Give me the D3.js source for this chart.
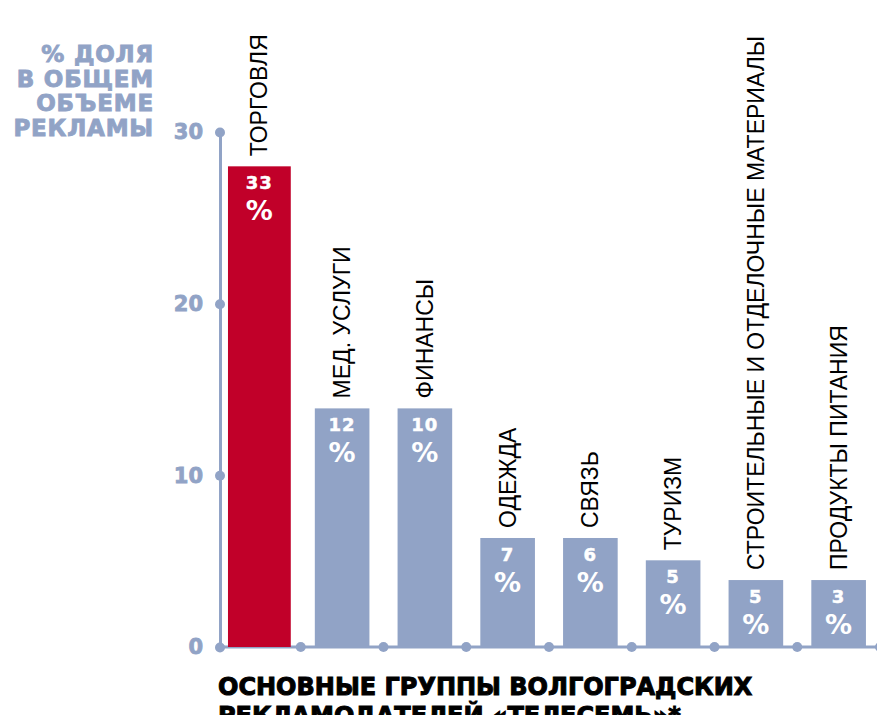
<!DOCTYPE html>
<html>
<head>
<meta charset="utf-8">
<script src="https://cdn.jsdelivr.net/npm/d3@7/dist/d3.min.js"></script>
<style>
  body { margin: 0; background: #fff; }
  svg { display: block; }
</style>
</head>
<body>
<svg id="chart" width="877" height="715"></svg>
<script>
// data
const categories = ["ТОРГОВЛЯ", "МЕД. УСЛУГИ", "ФИНАНСЫ", "ОДЕЖДА", "СВЯЗЬ", "ТУРИЗМ",
  "СТРОИТЕЛЬНЫЕ И ОТДЕЛОЧНЫЕ МАТЕРИАЛЫ", "ПРОДУКТЫ ПИТАНИЯ"];
const barValues = [28, 13.9, 13.9, 6.35, 6.35, 5.05, 3.9, 3.9];
const shareLabels = [33, 12, 10, 7, 6, 5, 5, 3];
const yTicks = [0, 10, 20, 30];
const yTitle = ["% ДОЛЯ", "В ОБЩЕМ", "ОБЪЕМЕ", "РЕКЛАМЫ"];
const xTitle = ["ОСНОВНЫЕ ГРУППЫ ВОЛГОГРАДСКИХ", "РЕКЛАМОДАТЕЛЕЙ «ТЕЛЕСЕМЬ»*"];

var blue = "#91a3c6";
var red = "#c10029";
var axisX = 220;
var heavy = "'DejaVu Sans', sans-serif";

var svg = d3.select("#chart");

var x = d3.scaleBand()
  .domain(categories)
  .range([218, 880])
  .paddingInner(0.34)
  .paddingOuter(0.17);

var y = d3.scaleLinear()
  .domain([0, 30])
  .range([647, 132]);

// x axis line + dots between bars
svg.append("line")
  .attr("x1", axisX).attr("x2", 877)
  .attr("y1", y(0)).attr("y2", y(0))
  .attr("stroke", blue).attr("stroke-width", 3);

svg.selectAll("circle.xdot").data(categories).enter().append("circle")
  .attr("class", "xdot")
  .attr("cx", function(d){ return x(d) + x.bandwidth() + x.step() * x.paddingInner() / 2; })
  .attr("cy", y(0))
  .attr("r", 5)
  .attr("fill", blue);

// y axis
var yAxis = d3.axisLeft(y).tickValues(yTicks).tickSize(0).tickPadding(17);
var gy = svg.append("g")
  .attr("transform", "translate(" + axisX + ",0)")
  .call(yAxis);
gy.select(".domain").attr("stroke", blue).attr("stroke-width", 3);
gy.selectAll("text")
  .attr("fill", blue)
  .attr("stroke", blue)
  .attr("stroke-width", 0.8)
  .style("font-family", heavy)
  .style("font-weight", "bold")
  .style("font-size", "21px");
gy.selectAll(".tick").append("circle")
  .attr("r", 5).attr("fill", blue);

// y title
svg.append("g").selectAll("text").data(yTitle).enter().append("text")
  .attr("x", 154)
  .attr("y", function(d, i){ return 62 + i * 24.7; })
  .attr("text-anchor", "end")
  .attr("fill", blue)
  .attr("stroke", blue)
  .attr("stroke-width", 0.9)
  .style("font-family", heavy)
  .style("font-weight", "bold")
  .style("font-size", "23px")
  .style("letter-spacing", "0.8px")
  .text(function(d){ return d; });

// bars
function barW(i){ return i === 0 ? x.bandwidth() * 1.15 : x.bandwidth(); }
function barX(d, i){ return x(d) + x.bandwidth() / 2 - barW(i) / 2; }

svg.selectAll("rect.bar").data(categories).enter().append("rect")
  .attr("class", "bar")
  .attr("x", barX)
  .attr("y", function(d, i){ return y(barValues[i]); })
  .attr("width", function(d, i){ return barW(i); })
  .attr("height", function(d, i){ return y(0) - y(barValues[i]); })
  .attr("fill", function(d, i){ return i === 0 ? red : blue; });

// value labels inside bars
var vals = svg.append("g").selectAll("g").data(categories).enter().append("g")
  .attr("transform", function(d, i){
    return "translate(" + (x(d) + x.bandwidth() / 2) + "," + y(barValues[i]) + ")";
  })
  .attr("fill", "#fff")
  .attr("text-anchor", "middle")
  .style("font-family", heavy)
  .style("font-weight", "bold");
vals.append("text")
  .attr("y", 23)
  .attr("stroke", "#fff")
  .attr("stroke-width", 0.5)
  .style("font-size", "18px")
  .style("letter-spacing", "1px")
  .text(function(d, i){ return shareLabels[i]; });
vals.append("text")
  .attr("y", 54)
  .style("font-size", "27px")
  .text("%");

// category labels, rotated
svg.append("g").selectAll("text").data(categories).enter().append("text")
  .attr("transform", function(d, i){
    return "translate(" + (x(d) + x.bandwidth() / 2 + 8) + "," + (y(barValues[i]) - 10) + ") rotate(-90)";
  })
  .attr("fill", "#000")
  .style("font-family", "'Liberation Sans', Arial, sans-serif")
  .style("font-size", "23px")
  .text(function(d){ return d; });

// bottom title
svg.append("g").selectAll("text").data(xTitle).enter().append("text")
  .attr("x", 218)
  .attr("y", function(d, i){ return 695 + i * 29; })
  .attr("fill", "#000")
  .attr("stroke", "#000")
  .attr("stroke-width", 1)
  .style("font-family", heavy)
  .style("font-weight", "bold")
  .style("font-size", "24px")
  .text(function(d){ return d; });
</script>
</body>
</html>
